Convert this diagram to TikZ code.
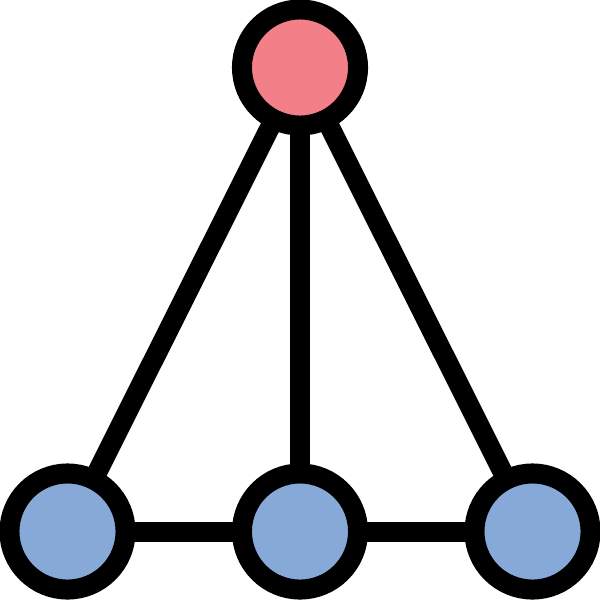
\documentclass[tikz,border=0pt]{standalone}
\usetikzlibrary{backgrounds}
\definecolor{topfill}{RGB}{243,128,137}
\definecolor{botfill}{RGB}{134,169,216}
\begin{document}
\begin{tikzpicture}[x=0.01cm,y=-0.01cm,
  vert/.style={circle,draw=black,line width=0.2cm,minimum size=1.16cm,inner sep=0pt},
  link/.style={draw=black,line width=0.2cm}]
\useasboundingbox (0,0) rectangle (600,600);
\node[vert,fill=topfill] (t) at (300,67.5) {};
\node[vert,fill=botfill] (l) at (67.5,531.5) {};
\node[vert,fill=botfill] (m) at (300,531.5) {};
\node[vert,fill=botfill] (r) at (532.5,531.5) {};
\begin{pgfonlayer}{background}
\draw[link] (t.center) -- (l.center);
\draw[link] (t.center) -- (m.center);
\draw[link] (t.center) -- (r.center);
\draw[link] (l.center) -- (m.center);
\draw[link] (m.center) -- (r.center);
\end{pgfonlayer}
\end{tikzpicture}
\end{document}
